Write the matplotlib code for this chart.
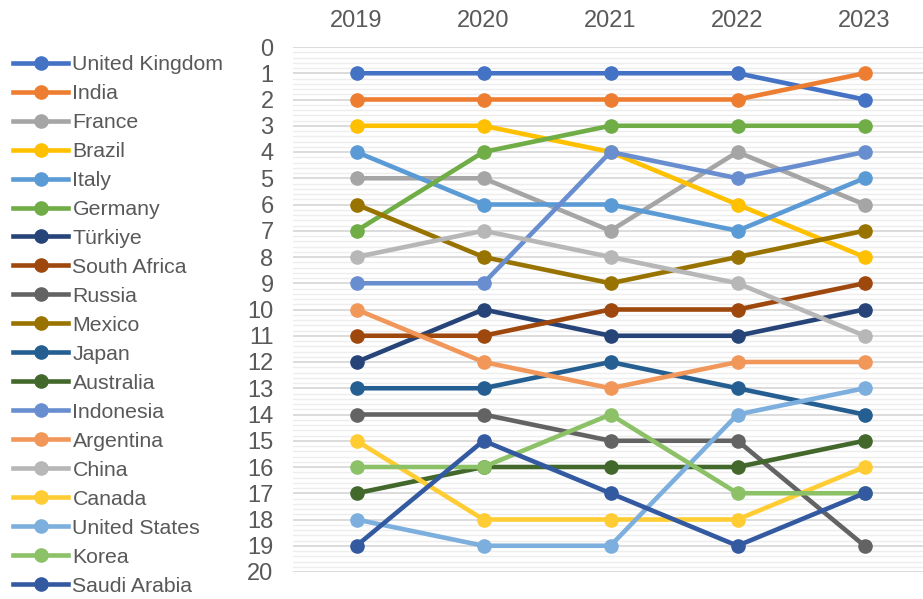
import matplotlib
matplotlib.use("Agg")
import matplotlib.pyplot as plt
from matplotlib.lines import Line2D
from matplotlib.ticker import MultipleLocator

plt.rcParams['font.family'] = ['Liberation Sans', 'DejaVu Sans']

years = ["2019", "2020", "2021", "2022", "2023"]

united_kingdom = [1, 1, 1, 1, 2]
india = [2, 2, 2, 2, 1]
france = [5, 5, 7, 4, 6]
brazil = [3, 3, 4, 6, 8]
italy = [4, 6, 6, 7, 5]
germany = [7, 4, 3, 3, 3]
turkiye = [12, 10, 11, 11, 10]
south_africa = [11, 11, 10, 10, 9]
russia = [14, 14, 15, 15, 19]
mexico = [6, 8, 9, 8, 7]
japan = [13, 13, 12, 13, 14]
australia = [17, 16, 16, 16, 15]
indonesia = [9, 9, 4, 5, 4]
argentina = [10, 12, 13, 12, 12]
china = [8, 7, 8, 9, 11]
canada = [15, 18, 18, 18, 16]
united_states = [18, 19, 19, 14, 13]
korea = [16, 16, 14, 17, 17]
saudi_arabia = [19, 15, 17, 19, 17]

names = ["United Kingdom", "India", "France", "Brazil", "Italy", "Germany",
         "Türkiye", "South Africa", "Russia", "Mexico", "Japan", "Australia",
         "Indonesia", "Argentina", "China", "Canada", "United States",
         "Korea", "Saudi Arabia"]
series = [united_kingdom, india, france, brazil, italy, germany, turkiye,
          south_africa, russia, mexico, japan, australia, indonesia,
          argentina, china, canada, united_states, korea, saudi_arabia]
colors = ["#4472C4", "#ED7D31", "#A5A5A5", "#FFC000", "#5B9BD5", "#70AD47",
          "#264478", "#9E480E", "#636363", "#997300", "#255E91", "#43682B",
          "#698ED0", "#F1975A", "#B7B7B7", "#FFCD33", "#7CAFDD", "#8CC168",
          "#335AA1"]

W, H = 923, 599
fig = plt.figure(figsize=(W / 100, H / 100), dpi=100)
left, right, top, bottom = 293, 928, 47, 572
ax = fig.add_axes([left / W, 1 - bottom / H, (right - left) / W, (bottom - top) / H])

x = list(range(len(years)))
handles = []
for name, vals, c in zip(names, series, colors):
    ax.plot(x, vals, color=c, lw=3.3, marker='o', ms=9.5,
            solid_capstyle='round', zorder=3)
    handles.append(Line2D([], [], color=c, lw=3.3, marker='o', ms=9.5))

ax.set_xlim(-0.5, len(years) - 0.5)
ax.set_ylim(20, 0)
ax.set_yticks(range(0, 21))
ax.yaxis.set_minor_locator(MultipleLocator(0.2))
ax.set_xticks(x)
ax.set_xticklabels(years)
ax.xaxis.tick_top()
ax.tick_params(axis='both', which='both', length=0, labelsize=17,
               labelcolor='#595959')
ax.tick_params(axis='y', pad=14)
ax.tick_params(axis='x', pad=11)
ax.grid(axis='y', which='major', color='#D9D9D9', lw=1.3, zorder=0)
ax.grid(axis='y', which='minor', color='#EDEDED', lw=1.0, zorder=0)
ax.grid(axis='x', visible=False)
for s in ax.spines.values():
    s.set_visible(False)
ax.set_axisbelow(True)

fig.legend(handles, names, loc='upper left',
           bbox_to_anchor=(13 / W, 1 - 55 / H), frameon=False,
           fontsize=15.3, labelcolor='#595959', handlelength=2.6,
           handletextpad=0.2, labelspacing=0.47, borderpad=0,
           borderaxespad=0)

fig.savefig("out.png", dpi=100)
